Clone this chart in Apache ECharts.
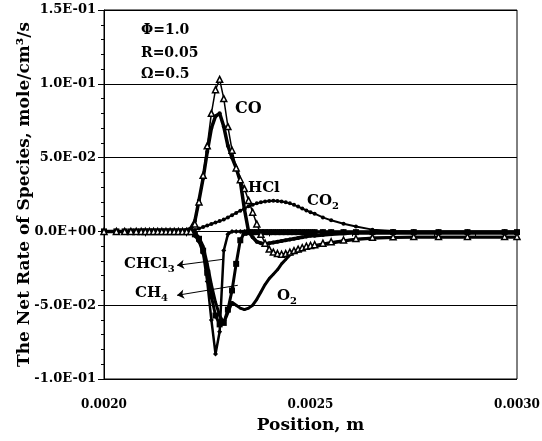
<!DOCTYPE html>
<html>
<head>
<meta charset="utf-8">
<style>
html, body { margin: 0; padding: 0; background: #fff; }
#chart { width: 542px; height: 441px; }
</style>
<script src="https://cdn.jsdelivr.net/npm/echarts@6/dist/echarts.min.js"></script>
</head>
<body>
<div id="chart"></div>
<script>
// position along the burner, m
var position = [
  0.00200, 0.00203, 0.00205, 0.002065, 0.002078, 0.00209, 0.00210, 0.00211, 0.00212,
  0.00213, 0.00214, 0.00215, 0.00216, 0.00217, 0.00218, 0.00219, 0.00220,
  0.00221, 0.00222, 0.00223, 0.00224, 0.00225, 0.00226, 0.00227, 0.00228, 0.00229, 0.00230,
  0.00231, 0.00232, 0.00233, 0.00234, 0.00235, 0.00236, 0.00237, 0.00238, 0.00239, 0.00240,
  0.00241, 0.00242, 0.00243, 0.00244, 0.00245, 0.00246, 0.00247, 0.00248, 0.00249, 0.00250,
  0.00251, 0.00253, 0.00255, 0.00258, 0.00261, 0.00265, 0.00270, 0.00275, 0.00281, 0.00288,
  0.00297, 0.00300
];

// net rates, mole/cm3/s
var rateCO = [
  0, 0, 0, 0, 0, 0, 0, 0, 0, 0, 0, 0, 0, 0, 0, 0, 0,
  0.000, 0.005, 0.020, 0.038, 0.058, 0.080, 0.096, 0.103, 0.090, 0.071,
  0.055, 0.043, 0.035, 0.029, 0.021, 0.013, 0.005, -0.002, -0.008, -0.012,
  -0.014, -0.015, -0.0155, -0.015, -0.014, -0.013, -0.012, -0.011, -0.010, -0.0095,
  -0.009, -0.008, -0.007, -0.0058, -0.0048, -0.004, -0.0037, -0.0035, -0.0035, -0.0035,
  -0.0035, -0.0035
];
var rateHCl = [
  0, 0, 0, 0, 0, 0, 0, 0, 0, 0, 0, 0, 0, 0, 0, 0, 0.001,
  0.002, 0.007, 0.021, 0.036, 0.054, 0.070, 0.078, 0.080, 0.071, 0.058,
  0.050, 0.043, 0.034, 0.015, 0.000, -0.004, -0.007, -0.008, -0.0085, -0.008,
  -0.0075, -0.007, -0.0065, -0.006, -0.0055, -0.005, -0.0045, -0.004, -0.0035, -0.003,
  -0.003, -0.0025, -0.002, -0.0015, -0.001, -0.001, -0.001, -0.001, -0.001, -0.001,
  -0.001, -0.001
];
var rateCO2 = [
  0, 0, 0, 0, 0, 0, 0, 0, 0, 0, 0, 0, 0, 0, 0, 0, 0,
  0.000, 0.001, 0.002, 0.003, 0.004, 0.005, 0.006, 0.007, 0.008, 0.0095,
  0.011, 0.0125, 0.014, 0.0155, 0.017, 0.018, 0.019, 0.0198, 0.0203, 0.0206,
  0.0207, 0.0206, 0.0203, 0.0198, 0.019, 0.018, 0.0168, 0.0155, 0.0142, 0.013,
  0.012, 0.0095, 0.0075, 0.0052, 0.0033, 0.0012, 0.0003, 0, 0, 0,
  0, 0
];
var rateCHCl3 = [
  0, 0, 0, 0, 0, 0, 0, 0, 0, 0, 0, 0, 0, 0, 0, 0, -0.0005,
  0.000, -0.003, -0.007, -0.015, -0.034, -0.060, -0.083, -0.068, -0.013, -0.002,
  0, 0, 0, 0, 0, 0, 0, 0, 0, 0,
  0, 0, 0, 0, 0, 0, 0, 0, 0, 0,
  0, 0, 0, 0, 0, 0, 0, 0, 0, 0,
  0, 0
];
var rateCH4 = [
  0, 0, 0, 0, 0, 0, 0, 0, 0, 0, 0, 0, 0, 0, 0, 0, 0,
  0.000, -0.002, -0.005, -0.013, -0.028, -0.044, -0.057, -0.063, -0.062, -0.053,
  -0.040, -0.022, -0.006, -0.001, -0.0005, -0.0005, -0.0005, -0.0005, -0.0005, -0.0005,
  -0.0005, -0.0005, -0.0005, -0.0005, -0.0005, -0.0005, -0.0005, -0.0005, -0.0005, -0.0005,
  -0.0005, -0.0005, -0.0005, -0.0005, -0.0005, -0.0005, -0.0005, -0.0005, -0.0005, -0.0005,
  -0.0005, -0.0005
];
var rateO2 = [
  0, 0, 0, 0, 0, 0, 0, 0, 0, 0, 0, 0, 0, 0, 0, 0, 0,
  0.000, -0.001, -0.004, -0.010, -0.022, -0.036, -0.048, -0.057, -0.062, -0.055,
  -0.048, -0.050, -0.052, -0.053, -0.052, -0.050, -0.046, -0.041, -0.036, -0.032,
  -0.029, -0.026, -0.022, -0.019, -0.016, -0.0145, -0.0135, -0.0125, -0.0115, -0.011,
  -0.0105, -0.009, -0.008, -0.0065, -0.0055, -0.0047, -0.0042, -0.004, -0.004, -0.004,
  -0.004, -0.004
];

// arrows from the curves back to the CHCl3 and CH4 labels [x, y] in data units
var arrowCHCl3 = [[0.002286, -0.019], [0.002177, -0.023]];
var arrowCH4 = [[0.002324, -0.0365], [0.002177, -0.0433]];

var font = 'DejaVu Serif';

function pairs(vals) {
  return position.map(function (p, i) { return [p, vals[i]]; });
}

function sci(v) {
  var s = Number(v).toExponential(1).split('e');
  var e = parseInt(s[1], 10);
  var ex = (e < 0 ? '-' : '+') + (Math.abs(e) < 10 ? '0' : '') + Math.abs(e);
  return s[0] + 'E' + ex;
}

function curve(name, vals, symbol, size, width, hollow) {
  return {
    name: name,
    type: 'line',
    data: pairs(vals),
    symbol: symbol,
    symbolSize: size,
    showSymbol: true,
    lineStyle: { color: '#000', width: width },
    itemStyle: { color: hollow ? '#fff' : '#000', borderColor: '#000', borderWidth: hollow ? 1.5 : 0 },
    emphasis: { disabled: true },
    animation: false
  };
}

var chart = echarts.init(document.getElementById('chart'), null, { renderer: 'canvas' });

var arrowLine = {
  silent: true,
  symbol: ['none', 'arrow'],
  symbolSize: 7,
  lineStyle: { color: '#000', width: 1, type: 'solid' },
  label: { show: false },
  animation: false,
  data: [
    [{ coord: arrowCHCl3[0] }, { coord: arrowCHCl3[1] }],
    [{ coord: arrowCH4[0] }, { coord: arrowCH4[1] }]
  ]
};

var sCHCl3 = curve('CHCl3', rateCHCl3, 'diamond', 5, 2.5, false);
sCHCl3.markLine = arrowLine;

// text with an optional subscript part
var txt = function (x, y, main, sub, size) {
  var rich = {
    m: { fontFamily: font, fontWeight: 'bold', fontSize: size, lineHeight: size + 5, fill: '#000' },
    s: { fontFamily: font, fontWeight: 'bold', fontSize: size - 5, lineHeight: size - 5, verticalAlign: 'bottom', fill: '#000' }
  };
  return {
    type: 'text', left: x, top: y, silent: true,
    style: { text: '{m|' + main + '}' + (sub ? '{s|' + sub + '}' : ''), rich: rich, fill: '#000' }
  };
};

var option = {
  backgroundColor: '#fff',
  animation: false,
  grid: {
    left: 104, right: 25, top: 10, bottom: 62,
    containLabel: false, outerBoundsMode: 'none',
    show: true, borderColor: '#000', borderWidth: 1, backgroundColor: 'transparent'
  },
  xAxis: {
    type: 'value',
    min: 0.0020, max: 0.0030, interval: 0.0005,
    name: 'Position, m',
    nameLocation: 'middle',
    nameGap: 38,
    nameMoveOverlap: false,
    nameTextStyle: { fontFamily: font, fontWeight: 'bold', fontSize: 17, color: '#000' },
    axisLine: { lineStyle: { color: '#000', width: 1 } },
    axisTick: { show: true, inside: false, length: 5, lineStyle: { color: '#000' } },
    minorTick: { show: true, splitNumber: 5, length: 5, lineStyle: { color: '#000' } },
    splitLine: { show: false },
    axisLabel: {
      fontFamily: font, fontWeight: 'bold', fontSize: 12, color: '#000', margin: 20,
      formatter: function (v) { return Number(v).toFixed(4); }
    }
  },
  yAxis: {
    type: 'value',
    min: -0.10, max: 0.15, interval: 0.05,
    name: 'The Net Rate of Species, mole/cm\u00b3/s',
    nameLocation: 'middle',
    nameGap: 71,
    nameMoveOverlap: false,
    nameTextStyle: { fontFamily: font, fontWeight: 'bold', fontSize: 17, color: '#000' },
    axisLine: { lineStyle: { color: '#000', width: 1 } },
    axisTick: { show: true, inside: false, length: 6, lineStyle: { color: '#000' } },
    minorTick: { show: true, splitNumber: 5, length: 3, lineStyle: { color: '#000' } },
    splitLine: { show: true, lineStyle: { color: '#000', width: 1 } },
    axisLabel: {
      fontFamily: font, fontWeight: 'bold', fontSize: 13, color: '#000', margin: 8,
      formatter: sci
    }
  },
  series: [
    curve('O2', rateO2, 'circle', 2.5, 3, false),
    curve('CH4', rateCH4, 'rect', 6, 3, false),
    sCHCl3,
    curve('CO2', rateCO2, 'circle', 4, 2, false),
    curve('HCl', rateHCl, 'circle', 4, 3.5, false),
    curve('CO', rateCO, 'triangle', 6, 1.5, true)
  ],
  graphic: [
    txt(141, 23, '\u03a6=1.0', '', 14),
    txt(141, 46, 'R=0.05', '', 14),
    txt(141, 67, '\u03a9=0.5', '', 14),
    txt(235, 101, 'CO', '', 16),
    txt(248, 181, 'HCl', '', 15),
    txt(307, 194, 'CO', '2', 15),
    txt(124, 257, 'CHCl', '3', 15),
    txt(135, 286, 'CH', '4', 15),
    txt(277, 289, 'O', '2', 15)
  ]
};

chart.setOption(option);
</script>
</body>
</html>
